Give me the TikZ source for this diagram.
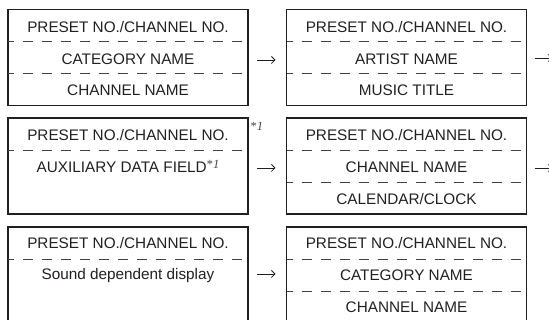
\documentclass[tikz,border=0pt]{standalone}
\usepackage{fontspec}
\setmainfont{Liberation Sans}
\newfontfamily\markfont{Liberation Serif}
\usetikzlibrary{arrows.meta}
\definecolor{ink}{HTML}{231F20}
\definecolor{markgray}{HTML}{444444}
\newcommand{\fnmark}{{\color{markgray}\markfont\fontsize{12.5}{12.5}\selectfont *\textit{1}}}
\begin{document}
\begin{tikzpicture}[x=1pt,y=1pt,
  box/.style={draw=ink, line width=1.1pt, minimum width=240pt, minimum height=96pt, inner sep=0pt, outer sep=0pt},
  divider/.style={draw=ink!85, line width=0.9pt, dash pattern=on 10pt off 9pt, dash phase=4pt},
  lbl/.style={text=ink, font=\fontsize{15.3}{18}\selectfont, inner sep=0pt, text height=11pt, text depth=0pt, anchor=center},
  flow/.style={draw=ink, line width=0.8pt, -{Straight Barb[length=3.5pt,width=7pt]}}
]
\useasboundingbox (0,0) rectangle (549,320);
% boxes (centres in pt, y up)
\node[box] (a1) at (128,262.5) {};
\node[box] (b1) at (406.5,262.5) {};
\node[box] (a2) at (128,154) {};
\node[box] (b2) at (406.5,154) {};
\node[box] (a3) at (128,45) {};
\node[box] (b3) at (406.5,45) {};
% dividers
\foreach \n in {a1,b1,b2,b3}{
  \draw[divider] ([yshift=-32pt]\n.north west) -- ([yshift=-32pt]\n.north east);
  \draw[divider] ([yshift=-64pt]\n.north west) -- ([yshift=-64pt]\n.north east);
}
\foreach \n in {a2,a3}{
  \draw[divider] ([yshift=-32pt]\n.north west) -- ([yshift=-32pt]\n.north east);
}
% texts
\node[lbl] (a1t1) at ([yshift=-18pt]a1.north) {PRESET NO./CHANNEL NO.};
\node[lbl] (a1t2) at ([yshift=-50pt]a1.north) {CATEGORY NAME};
\node[lbl] (a1t3) at ([yshift=-81pt]a1.north) {CHANNEL NAME};
\node[lbl] (b1t1) at ([yshift=-18pt]b1.north) {PRESET NO./CHANNEL NO.};
\node[lbl] (b1t2) at ([yshift=-49.5pt]b1.north) {ARTIST NAME};
\node[lbl] (b1t3) at ([yshift=-80.5pt]b1.north) {MUSIC TITLE};
\node[lbl] (a2t1) at ([yshift=-17.5pt]a2.north) {PRESET NO./CHANNEL NO.};
\node[lbl] (a2t2) at ([yshift=-49pt]a2.north) {AUXILIARY DATA FIELD\raisebox{4pt}{\fnmark}};
\node[lbl] (b2t1) at ([yshift=-17.5pt]b2.north) {PRESET NO./CHANNEL NO.};
\node[lbl] (b2t2) at ([yshift=-49.5pt]b2.north) {CHANNEL NAME};
\node[lbl] (b2t3) at ([yshift=-81pt]b2.north) {CALENDAR/CLOCK};
\node[lbl] (a3t1) at ([yshift=-16pt]a3.north) {PRESET NO./CHANNEL NO.};
\node[lbl] (a3t2) at ([yshift=-47pt]a3.north) {Sound dependent display};
\node[lbl] (b3t1) at ([yshift=-16pt]b3.north) {PRESET NO./CHANNEL NO.};
\node[lbl] (b3t2) at ([yshift=-48.5pt]b3.north) {CATEGORY NAME};
\node[lbl] (b3t3) at ([yshift=-80.5pt]b3.north) {CHANNEL NAME};
% footnote mark outside the box
\node[inner sep=0pt, anchor=south west] (m2) at ([xshift=2.5pt,yshift=-13pt]a2.north east) {\fnmark};
% arrows
\draw[flow, shorten <=9pt, shorten >=11pt] ([yshift=-2.5pt]a1.east) -- ([yshift=-2.5pt]b1.west);
\draw[flow, shorten <=9pt, shorten >=11pt] ([yshift=-2pt]a2.east) -- ([yshift=-2pt]b2.west);
\draw[flow, shorten <=9pt, shorten >=11pt] ([yshift=1pt]a3.east) -- ([yshift=1pt]b3.west);
\coordinate (e1) at ([xshift=26pt,yshift=-0.5pt]b1.east);
\coordinate (e2) at ([xshift=26pt,yshift=-2pt]b2.east);
\draw[flow, shorten <=8pt] ([yshift=-0.5pt]b1.east) -- (e1);
\draw[flow, shorten <=8pt] ([yshift=-2pt]b2.east) -- (e2);
\end{tikzpicture}
\end{document}
